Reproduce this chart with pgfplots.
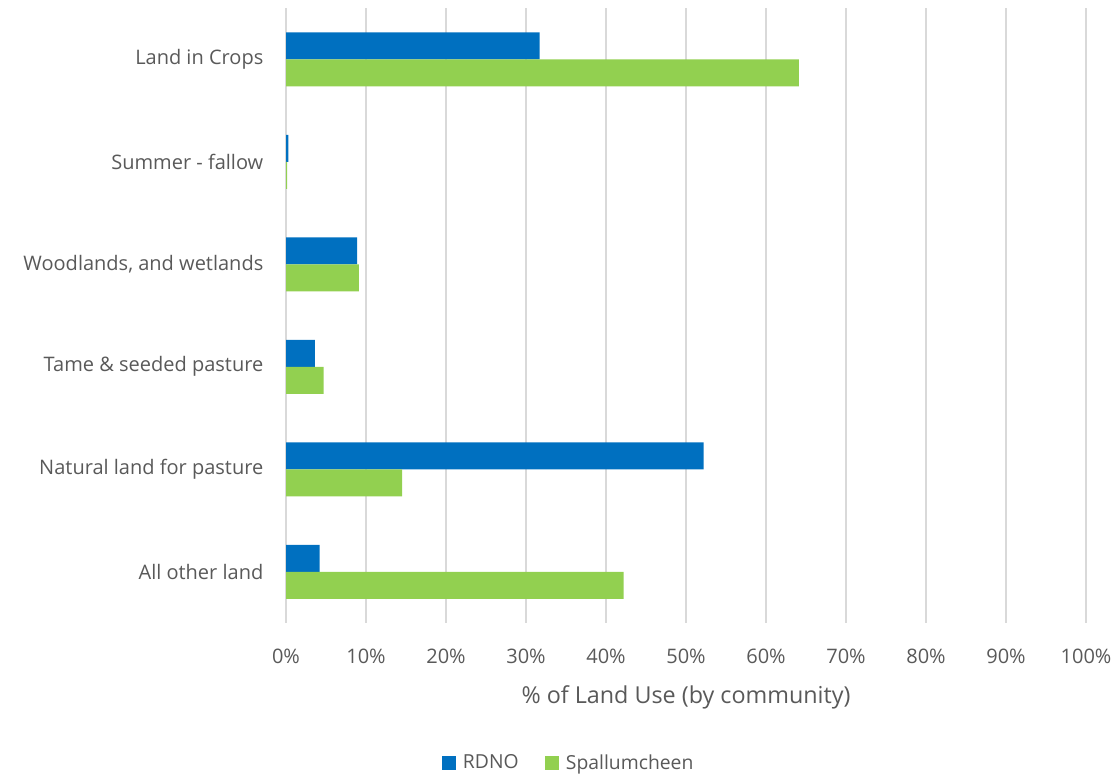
\documentclass[border=0pt]{standalone}
\usepackage{pgfplots}
\pgfplotsset{compat=1.18}
\usepackage{fontspec}
\setmainfont{Open Sans}
\definecolor{rdno}{HTML}{0070C0}
\definecolor{spal}{HTML}{92D050}
\definecolor{txt}{HTML}{595959}
\definecolor{grd}{HTML}{D9D9D9}
\begin{document}
\begin{tikzpicture}[x=0.75pt,y=0.75pt]
\path[use as bounding box] (0,0) rectangle (1119,775);
\begin{axis}[
  at={(286*0.75pt,152*0.75pt)}, anchor=south west,
  scale only axis, width=600pt, height=461.25pt,
  xbar, y dir=reverse,
  bar width=20.25pt,
  xmin=0, xmax=100, ymin=-0.5, ymax=5.5,
  xtick={0,10,...,100}, ytick={0,...,5},
  yticklabels={Land in Crops,Summer - fallow,{Woodlands, and wetlands},Tame \& seeded pasture,Natural land for pasture,All other land},
  xticklabel={\pgfmathprintnumber{\tick}\%},
  /pgf/number format/assume math mode=true,
  xmajorgrids, major grid style={grd, line width=1.5pt},
  axis line style={draw=none},
  major tick length=0pt,
  tick label style={font=\fontsize{15}{18}\selectfont, text=txt},
  xticklabel style={yshift=-16pt},
  yticklabel style={xshift=-13.5pt},
  xlabel={\% of Land Use (by community)},
  xlabel style={font=\fontsize{17.5}{21}\selectfont, text=txt, yshift=-9.5pt},
  legend style={at={(0.354,-0.2276)}, anchor=center, draw=none, legend columns=2,
    font=\fontsize{14.5}{18}\selectfont, text=txt,
    /tikz/every even column/.append style={column sep=18pt}},
  legend image code/.code={\fill[#1] (0pt,-5.25pt) rectangle (10.5pt,5.25pt); \path (13.5pt,0pt);},
  clip=false,
]
\addplot[fill=rdno, draw=none, bar shift=10.125pt] coordinates {(31.7,0) (0.3,1) (8.9,2) (3.6,3) (52.2,4) (4.2,5)};
\addplot[fill=spal, draw=none, bar shift=-10.125pt] coordinates {(64.1,0) (0.15,1) (9.1,2) (4.7,3) (14.5,4) (42.2,5)};
\legend{RDNO,Spallumcheen}
\end{axis}
\end{tikzpicture}
\end{document}
